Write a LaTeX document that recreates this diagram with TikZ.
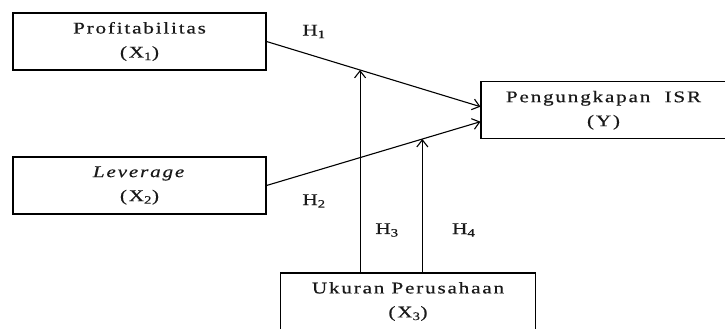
\documentclass[tikz,border=0pt]{standalone}
\usepackage{fontspec}
\setmainfont{Liberation Serif}[FakeStretch=1.3,LetterSpace=11,Ligatures=NoCommon,FakeBold=0.4]
\usetikzlibrary{arrows.meta,calc}
\begin{document}
\begin{tikzpicture}[x=1pt,y=1pt,
  box/.style={draw=black, line width=1.1pt, minimum width=253pt, minimum height=57pt,
    inner sep=0pt, align=center, text=black!90, font=\fontsize{16.3}{22}\selectfont},
  conn/.style={draw=black, line width=1.1pt, -{Straight Barb[length=7pt,width=11pt,line width=1.1pt]}},
  hlab/.style={text=black!90, font=\fontsize{16.3}{20}\selectfont, inner sep=0pt}]
\clip (0,0) rectangle (725,329);
\fill[white] (0,0) rectangle (725,329);
\node[box] (X1) at (139.5,287.5) {Profitabilitas\\[2pt](X\textsubscript{1})};
\node[box] (X2) at (139.5,143.5) {\textit{Leverage}\\[2pt](X\textsubscript{2})};
\node[box, minimum width=245pt] (Y) at (603.5,218.7) {Pengungkapan\ \ ISR\\[2pt](Y)};
\node[box, minimum width=254.7pt] (X3) at (408,27.5) {Ukuran Perusahaan\\[2pt](X\textsubscript{3})};
\coordinate (yin1) at ($(Y.west)+(0,3.6)$);
\coordinate (yin2) at ($(Y.west)+(0,-11.4)$);
\draw[conn] (X1.east) -- (yin1) coordinate[pos=0.4372] (m1);
\draw[conn] (X2.east) -- (yin2) coordinate[pos=0.7284] (m2);
\draw[conn] (X3.north -| m1) -- (m1);
\draw[conn] (X3.north -| m2) -- (m2);
\node[hlab] (h1) at (314,297.5) {H\textsubscript{1}};
\node[hlab] (h2) at (314,128) {H\textsubscript{2}};
\node[hlab] (h3) at (387,99) {H\textsubscript{3}};
\node[hlab] (h4) at (463.7,99) {H\textsubscript{4}};
\end{tikzpicture}
\end{document}
